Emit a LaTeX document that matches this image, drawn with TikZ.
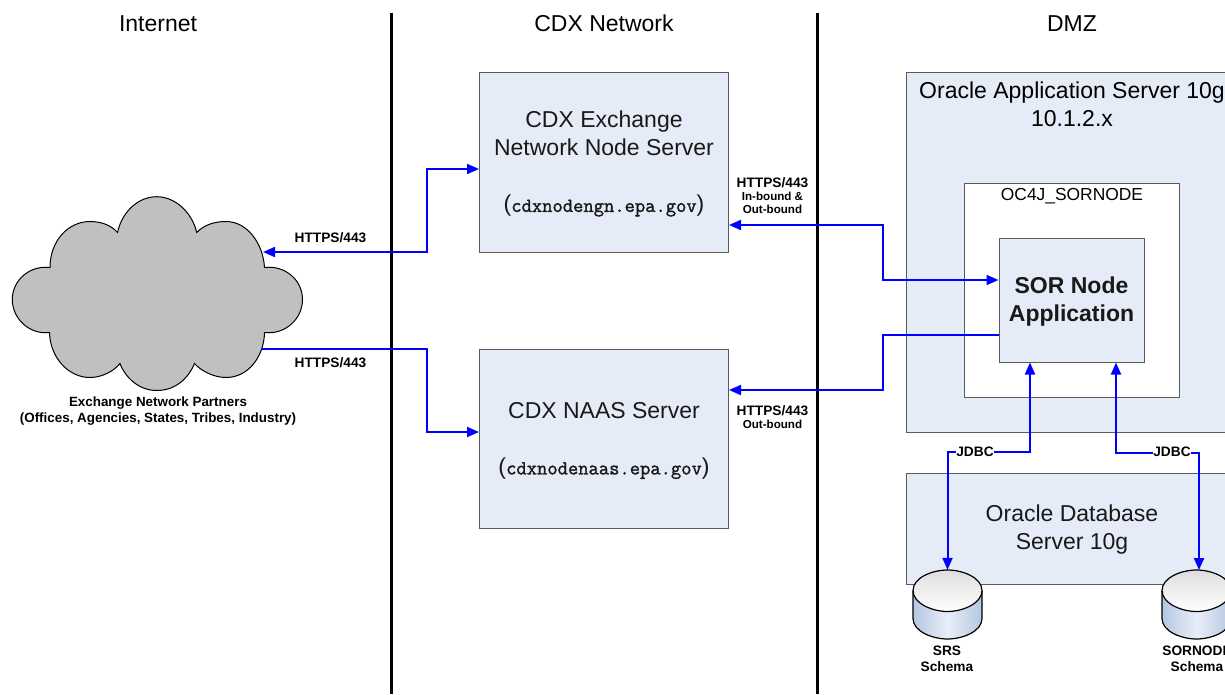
\documentclass[tikz,border=0pt]{standalone}
\usepackage{fontspec}
\setmainfont{Liberation Sans}
\newfontfamily\addrfont[FakeBold=1.5]{Latin Modern Mono}
\usetikzlibrary{arrows.meta,shadings}
\definecolor{boxfill}{HTML}{E6ECF7}
\definecolor{boxline}{HTML}{5A5A5A}
\definecolor{cloudfill}{HTML}{C0C0C0}
\definecolor{cylEdge}{HTML}{B4C7E2}
\definecolor{cylMid}{HTML}{E9EEF7}
\definecolor{cylTop}{HTML}{DEDEDE}
\newcommand{\bigf}{\fontsize{23}{28}\selectfont}
\newcommand{\monof}{\fontsize{20}{22}\selectfont\addrfont}
\newcommand{\parf}{\fontsize{23}{28}\selectfont}
\newcommand{\addr}[1]{{\parf(}{\monof #1}{\parf)}}
\newcommand{\lowertext}[1]{\rule{0pt}{#1pt}}
\tikzset{
  x=1pt,y=-1pt,
  boxnode/.style={draw=boxline,line width=1pt,fill=boxfill,inner sep=0pt,align=center,font=\bigf,text=black!90,anchor=center},
  whitebox/.style={boxnode,fill=white},
  headlabel/.style={font=\bigf,inner sep=0pt,anchor=center},
  smalllabel/.style={font=\fontsize{13.7}{16}\selectfont\bfseries,inner sep=0pt,align=center,anchor=center},
  tinylabel/.style={font=\fontsize{11.6}{13}\selectfont\bfseries,inner sep=0pt,align=center,anchor=center},
  wire/.style={draw=blue,line width=2pt,line join=miter},
  headtip/.style={-{Triangle[length=12pt,width=10pt]}},
  bothtips/.style={{Triangle[length=12pt,width=10pt]}-{Triangle[length=12pt,width=10pt]}},
  divider/.style={draw=black,line width=3pt},
  cyl/.style={minimum width=69pt,minimum height=69pt,inner sep=0pt,anchor=center},
}
\newcommand{\cylbody}[2]{%
  \path[left color=cylEdge,right color=cylEdge,middle color=cylMid]
    (#1-34.5,#2-14) -- (#1-34.5,#2+14) .. controls (#1-34.5,#2+27) and (#1-15,#2+34.5) .. (#1,#2+34.5)
    .. controls (#1+15,#2+34.5) and (#1+34.5,#2+27) .. (#1+34.5,#2+14) -- (#1+34.5,#2-14) -- cycle;
  \draw[black,line width=1.2pt]
    (#1-34.5,#2-14) -- (#1-34.5,#2+14) .. controls (#1-34.5,#2+27) and (#1-15,#2+34.5) .. (#1,#2+34.5)
    .. controls (#1+15,#2+34.5) and (#1+34.5,#2+27) .. (#1+34.5,#2+14) -- (#1+34.5,#2-14);
  \path[draw=black,line width=1.2pt,top color=cylTop,bottom color=white]
    (#1-34.5,#2-14) .. controls (#1-34.5,#2-27) and (#1-15,#2-34.5) .. (#1,#2-34.5)
    .. controls (#1+15,#2-34.5) and (#1+34.5,#2-27) .. (#1+34.5,#2-14)
    .. controls (#1+34.5,#2-1) and (#1+15,#2+7) .. (#1,#2+7)
    .. controls (#1-15,#2+7) and (#1-34.5,#2-1) .. (#1-34.5,#2-14) -- cycle;
}
\begin{document}
\begin{tikzpicture}
\useasboundingbox (0,0) rectangle (1225,694);
\fill[white] (0,0) rectangle (1225,694);

% dividers
\coordinate (d1t) at (391,13); \coordinate (d1b) at (391,694);
\coordinate (d2t) at (817,13); \coordinate (d2b) at (817,694);
\draw[divider] (d1t) -- (d1b);
\draw[divider] (d2t) -- (d2b);

% headings
\node[headlabel] (hinternet) at (158,23.5) {Internet};
\node[headlabel] (hcdx) at (604,23) {CDX Network};
\node[headlabel] (hdmz) at (1072,23.5) {DMZ};

% cloud
\path[draw=black,line width=1pt,fill=cloudfill]
  (50,267.5) .. controls (50,241) and (68,221.5) .. (90,221.5)
  .. controls (101,221.5) and (111,225) .. (117.5,232.5)
  .. controls (122,212) and (138,196.7) .. (156.7,196.7)
  .. controls (175,196.7) and (192,212) .. (196.7,232.5)
  .. controls (204,225) and (214,221.5) .. (226,221.5)
  .. controls (247,221.5) and (263,243) .. (264.5,267.5)
  .. controls (285,265) and (302.5,280) .. (302.5,299.5)
  .. controls (302.5,319) and (285,335) .. (264.5,332.5)
  .. controls (264,357) and (248,377.5) .. (226,377.5)
  .. controls (214,377.5) and (201,371) .. (194.5,363.5)
  .. controls (188,379) and (175,390.5) .. (156.7,390.5)
  .. controls (140,390.5) and (126,379) .. (120,363.5)
  .. controls (114,371) and (102,377.5) .. (90,377.5)
  .. controls (68,377.5) and (50,357) .. (49.5,332.5)
  .. controls (30,335) and (12.3,319) .. (12.3,299.5)
  .. controls (12.3,280) and (30,265) .. (50,267.5) -- cycle;
\coordinate (cloudin) at (263,252);
\coordinate (cloudout) at (261,349);
\node[smalllabel,font=\fontsize{13.4}{16}\selectfont\bfseries] (partners) at (158,411.5) {Exchange Network Partners\\(Offices, Agencies, States, Tribes, Industry)};

% boxes
\node[boxnode,minimum width=249pt,minimum height=180pt] (exch) at (604,162)
  {\lowertext{20.6}CDX Exchange\\Network Node Server\\[28pt]\addr{cdxnodengn.epa.gov}};
\node[boxnode,minimum width=249pt,minimum height=179pt] (naas) at (604,438.5)
  {\lowertext{20.6}CDX NAAS Server\\[28pt]\addr{cdxnodenaas.epa.gov}};
\node[boxnode,minimum width=332pt,minimum height=360pt] (oas) at (1072,252) {};
\node[headlabel,align=center] (oastext) at (1072,104) {Oracle Application Server 10g\\10.1.2.x};
\node[whitebox,minimum width=215pt,minimum height=214pt] (oc4j) at (1072,290) {};
\node[inner sep=0pt,font=\fontsize{17.4}{20}\selectfont] (oc4jtext) at (1072,196) {OC4J\_SORNODE};
\node[boxnode,minimum width=145pt,minimum height=124pt,font=\bigf\bfseries] (sor) at (1071.5,300) {\lowertext{20.6}SOR Node\\Application};
\node[boxnode,minimum width=332pt,minimum height=111pt] (db) at (1072,528.5) {\lowertext{18.6}Oracle Database\\Server 10g};

% cylinders
\node[cyl] (srs) at (947.5,604.5) {};
\node[cyl] (sornode) at (1196.5,604.5) {};
\cylbody{947.5}{604.5}
\cylbody{1196.5}{604.5}
\node[smalllabel] (srstext) at (947,658.5) {SRS\\Schema};
\node[smalllabel] (sornodetext) at (1197,658.5) {SORNODE\\Schema};

% connectors
\draw[wire,bothtips] (cloudin) -- (427,252) -- (427,169) -- (exch.west |- 0,169);
\draw[wire,headtip] (cloudout) -- (427,349) -- (427,432) -- (naas.west |- 0,432);
\draw[wire,bothtips] (exch.east |- 0,225) -- (883,225) -- (883,280) -- (sor.west |- 0,280);
\draw[wire,headtip] (sor.west |- 0,335) -- (883,335) -- (883,390) -- (naas.east |- 0,390);
\draw[wire,bothtips] (sor.south -| 1030,0) -- (1030,452) -- (947.5,452) -- (srs.north);
\draw[wire,bothtips] (sor.south -| 1116,0) -- (1116,452.5) -- (1199,452.5) -- (1199,570);

% connector labels
\node[smalllabel] (l1) at (330.5,237.5) {HTTPS/443};
\node[smalllabel] (l2) at (330.5,362.5) {HTTPS/443};
\node[smalllabel] (l3) at (772.5,182.5) {HTTPS/443};
\node[tinylabel] (l3b) at (772.5,202.5) {In-bound \&\\Out-bound};
\node[smalllabel] (l4) at (772.5,410.5) {HTTPS/443};
\node[tinylabel] (l4b) at (772.5,424) {Out-bound};
\node[smalllabel,fill=white,inner xsep=0.5pt] (j1) at (975,451.5) {JDBC};
\node[smalllabel,fill=white,inner xsep=0.5pt] (j2) at (1172,451.5) {JDBC};
\end{tikzpicture}
\end{document}
